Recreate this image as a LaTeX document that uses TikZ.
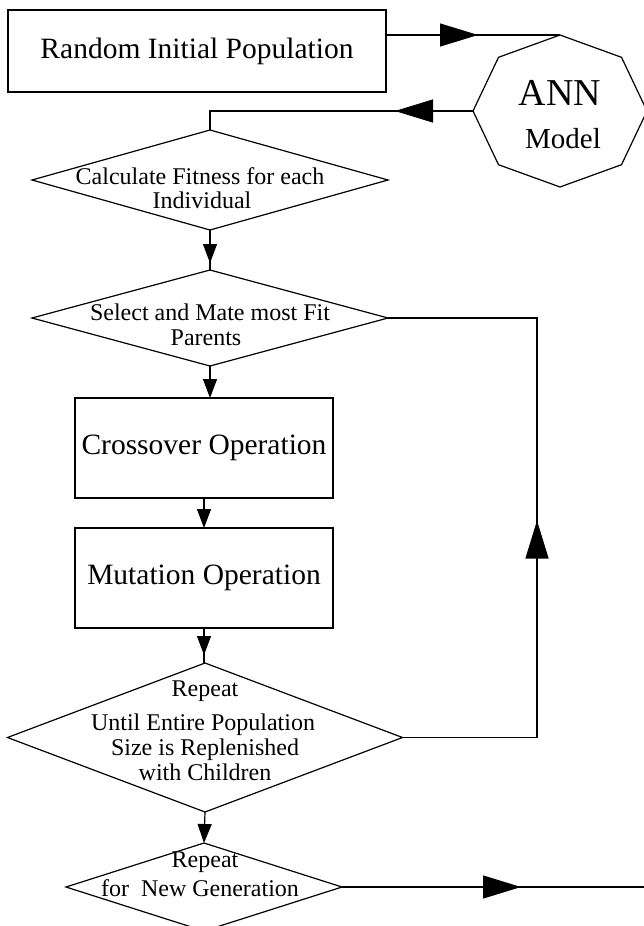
\documentclass[tikz,border=0pt]{standalone}
\usepackage{fontspec}
\setmainfont{Liberation Serif}
\usetikzlibrary{arrows.meta,shapes.geometric,decorations.markings}
\tikzset{
  ln/.style={line width=1.2pt},
  boxn/.style={draw, line width=1.2pt, rectangle, inner sep=0pt, outer sep=0pt},
  dia/.style={draw, line width=1.2pt, diamond, inner sep=0pt, outer sep=0pt},
  bigtip/.tip={Triangle[length=38pt,width=23pt]},
  smalltip/.tip={Triangle[length=19pt,width=14pt]},
  bigmark/.style={postaction={decorate}, decoration={markings, mark=at position #1 with {\arrow{bigtip}}}},
  smallmark/.style={postaction={decorate}, decoration={markings, mark=at position #1 with {\arrow{smalltip}}}},
  txtA/.style={inner sep=0pt, anchor=base, font=\fontsize{24}{28}\selectfont},
  bigtxt/.style={font=\fontsize{29.5}{34}\selectfont},
}
\begin{document}
\begin{tikzpicture}[x=1pt,y=-1pt]
\useasboundingbox (0,0) rectangle (644,926);
% boxes
\node[boxn, bigtxt, minimum width=378pt, minimum height=82pt] (box1) at (197,51) {Random Initial Population};
\node[boxn, bigtxt, minimum width=258pt, minimum height=100pt] (box2) at (204,448) {Crossover Operation};
\node[boxn, bigtxt, minimum width=258pt, minimum height=100pt] (box3) at (204,578) {Mutation Operation};
% octagon
\node[ellipse, minimum width=174pt, minimum height=152pt, inner sep=0pt, outer sep=0pt] (oct) at (560,111) {};
\draw[ln] ([shift={(0,-76)}]oct.center) -- ([shift={(61.5,-53.7)}]oct.center) -- ([shift={(87,0)}]oct.center) -- ([shift={(61.5,53.7)}]oct.center) -- ([shift={(0,76)}]oct.center) -- ([shift={(-61.5,53.7)}]oct.center) -- ([shift={(-87,0)}]oct.center) -- ([shift={(-61.5,-53.7)}]oct.center) -- cycle;
\node[font=\fontsize{38}{40}\selectfont, inner sep=0pt] (ann) at (560,93) {ANN};
\node[font=\fontsize{29}{32}\selectfont, inner sep=0pt] (model) at (563,139) {Model};
% diamonds
\node[dia, minimum width=356pt, minimum height=100pt] (d1) at (210,180) {};
\node[txtA] (t1a) at (200,184) {Calculate Fitness for each};
\node[txtA] (t1b) at (202,208) {Individual};
\node[dia, minimum width=356pt, minimum height=96pt] (d2) at (210,318) {};
\node[txtA] (t2a) at (210,320) {Select and Mate most Fit};
\node[txtA] (t2b) at (206,345) {Parents};
\node[dia, minimum width=395pt, minimum height=149pt] (d3) at (205,737.5) {};
\node[txtA] (t3a) at (205,696) {Repeat};
\node[txtA] (t3b) at (203,730) {Until Entire Population};
\node[txtA] (t3c) at (205,755) {Size is Replenished};
\node[txtA] (t3d) at (205,780) {with Children};
\node[dia, minimum width=276pt, minimum height=88pt] (d4) at (204,887) {};
\node[txtA] (t4a) at (205,867) {Repeat};
\node[txtA] (t4b) at (200,896) {for\ \ New Generation};
% coordinates
\coordinate (rc1) at (537,737.5);
\coordinate (rc2) at (rc1 |- d2.east);
\coordinate (rend) at (650,887);
% connectors
\draw[ln, bigmark=92pt] (box1.east |- oct.north) -- (oct.north);
\draw[ln, bigmark=78pt] (oct.west) -- (oct.west -| d1.north) -- (d1.north);
\draw[ln, smallmark=-7pt] (d1.south) -- (d2.north);
\draw[ln, -{smalltip}] (d2.south) -- (d2.south |- box2.north);
\draw[ln, -{smalltip}] (box2.south) -- (box3.north);
\draw[ln, smallmark=-8pt] (box3.south) -- (box3.south |- d3.north);
\draw[ln, -{smalltip}] (d3.south) -- (d4.north);
\draw[ln, bigmark=351.5pt] (d3.east) -- (rc1) -- (rc2) -- (d2.east);
\draw[ln, bigmark=179pt] (d4.east) -- (rend);
\end{tikzpicture}
\end{document}
